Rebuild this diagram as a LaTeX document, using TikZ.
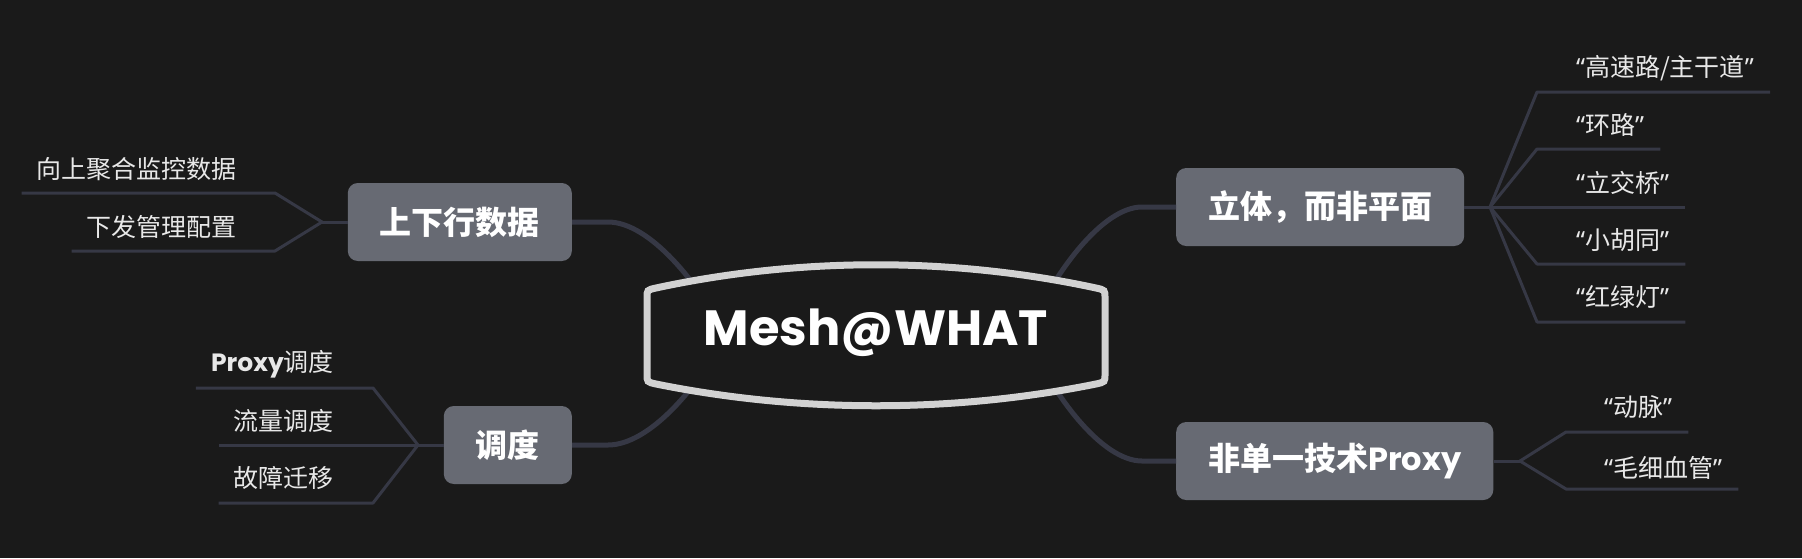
\documentclass[tikz,border=0pt]{standalone}
\usepackage{fontspec}
\setmainfont{Noto Sans CJK SC}
\newfontfamily\pop{Poppins}
\newfontfamily\qfont{Noto Sans}
\newcommand\qopen{{\qfont “}}
\newcommand\qclose{{\qfont ”}}
\usetikzlibrary{calc}
\definecolor{bg}{RGB}{26,26,26}
\definecolor{lineC}{RGB}{54,56,69}
\definecolor{boxC}{RGB}{103,106,115}
\definecolor{ringC}{RGB}{210,210,210}
\definecolor{leafT}{RGB}{232,232,232}
\begin{document}
\begin{tikzpicture}[x=1pt,y=-1pt,
  conn/.style={line width=5pt, draw=lineC},
  twig/.style={line width=3pt, draw=lineC, line join=round},
  topic/.style={fill=boxC, rounded corners=10pt, minimum height=78pt, inner xsep=32pt, inner ysep=0pt, text=white, font=\fontsize{32}{38}\selectfont\bfseries},
  leaf/.style={text=leafT, inner sep=0pt, font=\fontsize{25}{30}\selectfont},
]
\fill[bg] (0,0) rectangle (1802,558);

% topic boxes
\node[topic, anchor=east] (up) at (572,222) {上下行数据};
\node[topic, anchor=east] (dd) at (572,445) {调度};
\node[topic, anchor=west] (lt) at (1176,207) {立体，而非平面};
\node[topic, anchor=west] (px) at (1176,461) {非单一技术{\pop Proxy}};

% hidden ends of main connectors (under central node)
\coordinate (cL) at (725,335);
\coordinate (cR) at (1027,335);

% main connectors
\draw[conn] (up.east) -- (608,222) .. controls (650,222) and (700,285) .. (cL);
\draw[conn] (dd.east) -- (608,445) .. controls (650,445) and (700,385) .. (cL);
\draw[conn] (lt.west) -- (1142,207) .. controls (1102,207) and (1052,275) .. (cR);
\draw[conn] (px.west) -- (1142,461) .. controls (1102,461) and (1052,395) .. (cR);

% central node
\path[fill=bg, draw=ringC, line width=7pt]
  (647,374) -- (647,298) .. controls (647,290) .. (656,288)
  .. controls (800,257) and (952,257) .. (1096,288)
  .. controls (1105,290) .. (1105,298) -- (1105,374)
  .. controls (1105,382) .. (1096,384)
  .. controls (952,413) and (800,413) .. (656,384)
  .. controls (647,382) .. (647,374) -- cycle;
\node[text=white, font=\pop\fontsize{49.5}{58}\selectfont\bfseries] (c) at (876,333) {Mesh@WHAT};

% ---- left group: 上下行数据
\coordinate (ub) at (322,222);
\coordinate (ue1) at (275,193);
\coordinate (ue2) at (275,251);
\node[leaf, anchor=east] (u1) at (237,169) {向上聚合监控数据};
\node[leaf, anchor=east] (u2) at (237,227) {下发管理配置};
\draw[twig] (up.west) -- (ub);
\draw[twig] (ub) -- (ue1) -- ([xshift=-15pt]u1.west |- ue1);
\draw[twig] (ub) -- (ue2) -- ([xshift=-15pt]u2.west |- ue2);

% ---- left group: 调度
\coordinate (db) at (418,445);
\coordinate (de1) at (373,388);
\coordinate (de2) at (373,445);
\coordinate (de3) at (373,503);
\node[leaf, anchor=east] (d1) at (334,364) {{\pop\bfseries Proxy}调度};
\node[leaf, anchor=east] (d2) at (334,421) {流量调度};
\node[leaf, anchor=east] (d3) at (334,478) {故障迁移};
\draw[twig] (dd.west) -- (db);
\draw[twig] (db) -- (de1) -- ([xshift=-15pt]d1.west |- de1);
\draw[twig] (db) -- (de2) -- ([xshift=-15pt]d2.west |- de2);
\draw[twig] (db) -- (de3) -- ([xshift=-15pt]d3.west |- de3);

% ---- right group: 立体，而非平面
\coordinate (lb) at (1490,207);
\coordinate (le1) at (1537,92);
\coordinate (le2) at (1537,149);
\coordinate (le3) at (1537,207);
\coordinate (le4) at (1537,264);
\coordinate (le5) at (1537,322);
\node[leaf, anchor=west] (l1) at (1576,68) {\qopen 高速路/主干道\qclose};
\node[leaf, anchor=west] (l2) at (1576,125) {\qopen 环路\qclose};
\node[leaf, anchor=west] (l3) at (1576,183) {\qopen 立交桥\qclose};
\node[leaf, anchor=west] (l4) at (1576,240) {\qopen 小胡同\qclose};
\node[leaf, anchor=west] (l5) at (1576,297) {\qopen 红绿灯\qclose};
\draw[twig] (lt.east) -- (lb);
\draw[twig] (lb) -- (le1) -- ([xshift=16pt]l1.east |- le1);
\draw[twig] (lb) -- (le2) -- ([xshift=16pt]l2.east |- le2);
\draw[twig] (lb) -- (le3) -- ([xshift=16pt]l3.east |- le3);
\draw[twig] (lb) -- (le4) -- ([xshift=16pt]l4.east |- le4);
\draw[twig] (lb) -- (le5) -- ([xshift=16pt]l5.east |- le5);

% ---- right group: 非单一技术Proxy
\coordinate (pb) at (1520,461);
\coordinate (pe1) at (1566,432);
\coordinate (pe2) at (1566,489);
\node[leaf, anchor=west] (p1) at (1604,407) {\qopen 动脉\qclose};
\node[leaf, anchor=west] (p2) at (1604,468) {\qopen 毛细血管\qclose};
\draw[twig] (px.east) -- (pb);
\draw[twig] (pb) -- (pe1) -- ([xshift=16pt]p1.east |- pe1);
\draw[twig] (pb) -- (pe2) -- ([xshift=16pt]p2.east |- pe2);
\end{tikzpicture}
\end{document}
